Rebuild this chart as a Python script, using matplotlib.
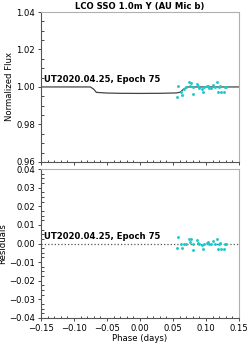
import numpy as np
import matplotlib.pyplot as plt
from matplotlib.ticker import AutoMinorLocator

# transit model
model_phase = [-0.15, -0.075, -0.070, -0.066, -0.05, -0.03, 0.0, 0.03, 0.055, 0.061, 0.066, 0.071, 0.15]
model_flux = [1.0, 1.0, 0.9988, 0.9971, 0.99675, 0.9966, 0.99655, 0.9966, 0.9968, 0.9972, 0.9988, 1.0, 1.0]

# observed points (phase, residual)
obs_phase = [0.0565, 0.058, 0.062, 0.064, 0.066, 0.070, 0.0747, 0.0757, 0.078, 0.0798,
             0.081, 0.086, 0.0875, 0.090, 0.0935, 0.095, 0.097, 0.101, 0.103, 0.105,
             0.107, 0.111, 0.113, 0.116, 0.1187, 0.120, 0.122, 0.1235, 0.127, 0.1287, 0.131]
obs_resid = [-0.0023, 0.0034, 0.0000, -0.0023, 0.0000, 0.0000, 0.0025, 0.0007, 0.0022, -0.0036,
             0.0000, 0.0018, 0.0004, -0.0005, -0.0009, -0.0027, 0.0000, 0.0004, 0.0007, -0.0005,
             -0.0005, 0.0013, 0.0000, 0.0025, -0.0028, 0.0000, 0.0004, -0.0028, -0.0028, 0.0000, 0.0000]

label = "UT2020.04.25, Epoch 75"

obs_model = np.interp(obs_phase, model_phase, model_flux)
obs_flux = obs_model + np.array(obs_resid)

fs = 6.1
fig = plt.figure(figsize=(2.51, 3.43), dpi=100)
ax1 = fig.add_axes([0.163, 0.528, 0.789, 0.437])
ax2 = fig.add_axes([0.163, 0.073, 0.789, 0.434])

for ax in (ax1, ax2):
    ax.set_xlim(-0.15, 0.15)
    ax.xaxis.set_minor_locator(AutoMinorLocator(5))
    ax.yaxis.set_minor_locator(AutoMinorLocator(4))
    ax.tick_params(which='both', direction='in', labelsize=fs, length=1.8, width=0.5, pad=1.5)
    ax.tick_params(which='major', direction='out', length=2.5)
    for s in ('top', 'right'):
        ax.spines[s].set_color('#b0b0b0')
    for s in ('left', 'bottom'):
        ax.spines[s].set_color('#555555')
    for s in ax.spines.values():
        s.set_linewidth(0.8)

ax1.plot(model_phase, model_flux, color='#444444', lw=0.9, zorder=2)
ax1.scatter(obs_phase, obs_flux, s=1.2, color='#20c8c8', zorder=3)
ax1.set_ylim(0.96, 1.04)
ax1.set_yticks([0.96, 0.98, 1.00, 1.02, 1.04])
ax1.set_xticklabels([])
ax1.set_ylabel('Normalized Flux', fontsize=fs, labelpad=2)
ax1.set_title('LCO SSO 1.0m Y (AU Mic b)', fontsize=fs, fontweight='bold', pad=2)
ax1.text(-0.145, 1.0025, label, fontsize=fs, fontweight='bold')

ax2.axhline(0, color='#555555', lw=0.9, ls=':', zorder=1)
ax2.scatter(obs_phase, obs_resid, s=1.2, color='#20c8c8', zorder=3)
ax2.set_ylim(-0.04, 0.04)
ax2.set_yticks([-0.04, -0.03, -0.02, -0.01, 0.0, 0.01, 0.02, 0.03, 0.04])
ax2.set_xticks([-0.15, -0.10, -0.05, 0.0, 0.05, 0.10, 0.15])
ax2.set_xticklabels(['\u22120.15', '\u22120.10', '\u22120.05', '0.00', '0.05', '0.10', '0.15'])
ax2.set_ylabel('Residuals', fontsize=fs, labelpad=2)
ax2.set_xlabel('Phase (days)', fontsize=fs, labelpad=1)
ax2.text(-0.145, 0.0025, label, fontsize=fs, fontweight='bold')

fig.savefig('out.png', dpi=100)
